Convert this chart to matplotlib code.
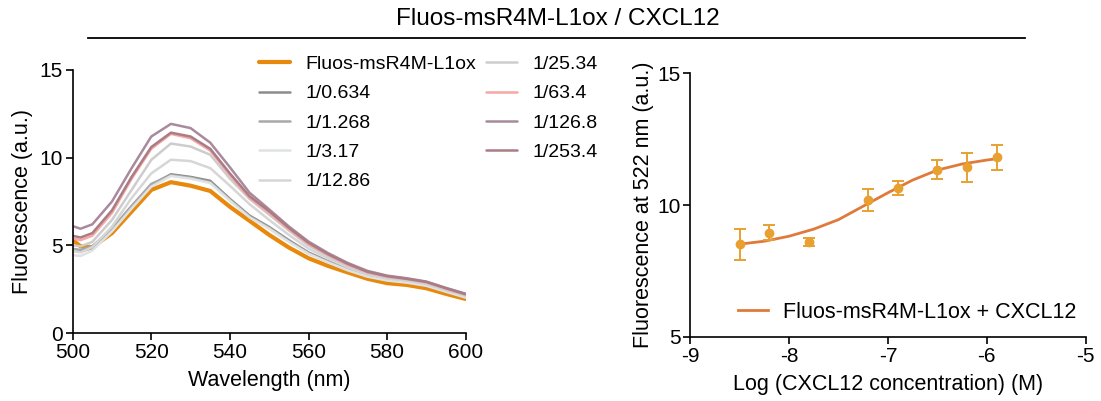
import numpy as np
import matplotlib.pyplot as plt

plt.rcParams['font.family'] = ['Liberation Sans', 'DejaVu Sans']
plt.rcParams['axes.unicode_minus'] = False

# emission spectra
wavelength = [500, 502, 505, 510, 515, 520, 525, 530, 535, 540, 545,
              550, 555, 560, 565, 570, 575, 580, 585, 590, 595, 600]
probe = [5.3, 4.95, 4.9, 5.7, 6.93, 8.16, 8.6, 8.4, 8.1, 7.2, 6.4,
         5.6, 4.88, 4.27, 3.83, 3.46, 3.1, 2.85, 2.75, 2.56, 2.24, 1.95]
r_0634 = [4.7, 4.65, 4.85, 5.9, 7.2, 8.45, 9.05, 8.9, 8.68, 7.65, 6.7,
          6.05, 5.3, 4.6, 4.1, 3.65, 3.28, 3.05, 2.93, 2.75, 2.4, 2.08]
r_1268 = [4.8, 4.75, 4.95, 5.95, 7.25, 8.5, 9.0, 8.85, 8.6, 7.6, 6.65,
          6.0, 5.25, 4.57, 4.07, 3.62, 3.25, 3.02, 2.9, 2.72, 2.38, 2.05]
r_317 = [4.45, 4.4, 4.7, 5.8, 7.1, 8.35, 8.95, 8.8, 8.55, 7.55, 6.6,
         5.95, 5.2, 4.52, 4.03, 3.58, 3.22, 3.0, 2.88, 2.7, 2.36, 2.03]
r_1286 = [4.7, 4.6, 4.9, 6.07, 7.7, 9.1, 9.88, 9.8, 9.4, 8.4, 7.35,
          6.45, 5.6, 4.82, 4.25, 3.75, 3.35, 3.12, 3.0, 2.8, 2.45, 2.12]
r_2534 = [5.0, 4.95, 5.2, 6.45, 8.16, 9.87, 10.8, 10.63, 10.16, 8.8, 7.65,
          6.75, 5.85, 5.0, 4.38, 3.85, 3.42, 3.18, 3.05, 2.86, 2.5, 2.17]
r_634 = [5.4, 5.3, 5.55, 6.85, 8.8, 10.5, 11.35, 11.1, 10.4, 9.0, 7.7,
         6.85, 5.92, 5.08, 4.45, 3.9, 3.47, 3.22, 3.08, 2.9, 2.54, 2.2]
r_1268b = [6.1, 5.95, 6.2, 7.5, 9.4, 11.2, 11.92, 11.68, 10.85, 9.45, 8.0,
           7.05, 6.08, 5.22, 4.56, 4.0, 3.55, 3.28, 3.13, 2.94, 2.58, 2.25]
r_2534b = [5.55, 5.45, 5.7, 7.0, 8.9, 10.6, 11.42, 11.2, 10.5, 9.1, 7.8,
           6.95, 6.0, 5.15, 4.5, 3.95, 3.5, 3.25, 3.1, 2.92, 2.56, 2.22]

labels = ['Fluos-msR4M-L1ox', '1/0.634', '1/1.268', '1/3.17', '1/12.86',
          '1/25.34', '1/63.4', '1/126.8', '1/253.4']
colors = ['#e8890c', '#8c8c8c', '#a8a8a8', '#dfe2e2', '#d6d6d6',
          '#cdcdcd', '#f6a8a4', '#a98a9c', '#a97c86']
spectra = [probe, r_0634, r_1268, r_317, r_1286, r_2534, r_634, r_1268b, r_2534b]

# titration at 522 nm
log_conc = [-8.5, -8.2, -7.8, -7.2, -6.9, -6.5, -6.2, -5.9]
f522 = [8.51, 8.96, 8.61, 10.2, 10.66, 11.35, 11.44, 11.82]
f522_err = [0.59, 0.29, 0.15, 0.43, 0.27, 0.37, 0.55, 0.48]
fit_x = [-8.5, -8.25, -8.0, -7.75, -7.5, -7.25, -7.0, -6.75, -6.5, -6.25, -6.0, -5.9]
fit_y = [8.52, 8.63, 8.82, 9.09, 9.45, 9.96, 10.47, 10.95, 11.33, 11.56, 11.71, 11.76]

fig = plt.figure(figsize=(11.01, 4.01), dpi=100)

fig.text(0.507, 0.953, 'Fluos-msR4M-L1ox / CXCL12', ha='center', va='center', fontsize=17.5)
fig.add_artist(plt.Line2D([0.08, 0.931], [0.905, 0.905], color='black', lw=1.3))

ax1 = fig.add_axes([0.066, 0.169, 0.357, 0.657])
for i, (ys, lab, c) in enumerate(zip(spectra, labels, colors)):
    lw = 3.0 if i == 0 else 1.8
    ax1.plot(wavelength, ys, color=c, lw=lw, label=lab, solid_capstyle='round')
ax1.set_xlim(500, 600)
ax1.set_ylim(0, 15)
ax1.set_xticks(range(500, 601, 20))
ax1.set_yticks([0, 5, 10, 15])
ax1.set_xlabel('Wavelength (nm)', fontsize=15.5, labelpad=6)
ax1.set_ylabel('Fluorescence (a.u.)', fontsize=15.5, labelpad=5)
leg1 = fig.legend(*ax1.get_legend_handles_labels(), loc='upper left',
                  bbox_to_anchor=(0.219, 0.905), ncol=2, frameon=False,
                  fontsize=14, handlelength=1.6, handletextpad=0.8,
                  labelspacing=0.6, columnspacing=0.5)

ax2 = fig.add_axes([0.627, 0.160, 0.359, 0.657])
ax2.plot(fit_x, fit_y, color='#e07a3a', lw=2.0, label='Fluos-msR4M-L1ox + CXCL12')
ax2.errorbar(log_conc, f522, yerr=f522_err, fmt='o', color='#e8a030', ms=6,
             elinewidth=1.4, capsize=4, capthick=1.4)
ax2.set_xlim(-9, -5)
ax2.set_ylim(5, 15)
ax2.set_xticks([-9, -8, -7, -6, -5])
ax2.set_yticks([5, 10, 15])
ax2.set_xlabel('Log (CXCL12 concentration) (M)', fontsize=15.5, labelpad=6)
ax2.set_ylabel('Fluorescence at 522 nm (a.u.)', fontsize=15.5, labelpad=2)
ax2.legend(loc='lower right', bbox_to_anchor=(1.025, -0.02), frameon=False,
           fontsize=15.5, handlelength=1.4, handletextpad=0.7)

for ax in (ax1, ax2):
    ax.spines['top'].set_visible(False)
    ax.spines['right'].set_visible(False)
    for s in ('left', 'bottom'):
        ax.spines[s].set_linewidth(1.2)
    ax.tick_params(direction='out', length=5, width=1.2, labelsize=15, pad=2)

fig.savefig('out.png', dpi=100)
